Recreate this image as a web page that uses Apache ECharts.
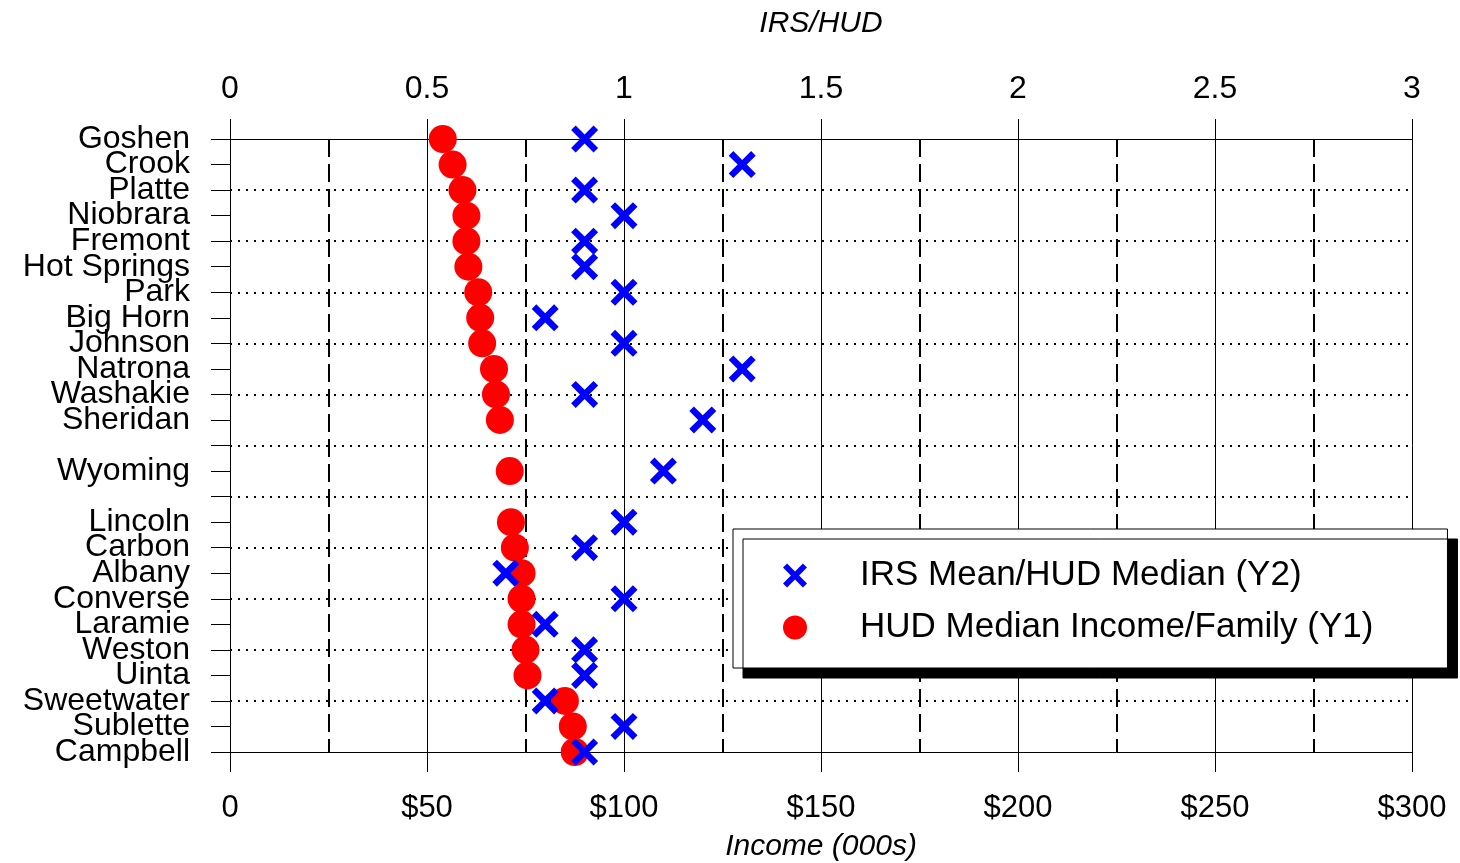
<!DOCTYPE html>
<html>
<head>
<meta charset="utf-8">
<script src="https://cdn.jsdelivr.net/npm/echarts@6/dist/echarts.min.js"></script>
<style>
  html, body { margin: 0; padding: 0; background: #fff; }
  #chart { width: 1460px; height: 863px; }
</style>
</head>
<body>
<div id="chart"></div>
<script>
"use strict";
// counties, top to bottom ('' = spacer rows around the state value)
const counties = ['Goshen', 'Crook', 'Platte', 'Niobrara', 'Fremont', 'Hot Springs', 'Park', 'Big Horn',
  'Johnson', 'Natrona', 'Washakie', 'Sheridan', '', 'Wyoming', '', 'Lincoln', 'Carbon', 'Albany',
  'Converse', 'Laramie', 'Weston', 'Uinta', 'Sweetwater', 'Sublette', 'Campbell'];

// HUD median income per family, $000s (bottom axis)
const hudMedian = [54, 56.5, 59, 60, 60, 60.5, 63, 63.5, 64, 67, 67.5, 68.5, null, 71, null,
  71.3, 72.3, 74, 74, 74, 75, 75.5, 85, 87, 87.5];

// IRS mean / HUD median ratio (top axis)
const irsRatio = [0.9, 1.3, 0.9, 1.0, 0.9, 0.9, 1.0, 0.8, 1.0, 1.3, 0.9, 1.2, null, 1.1, null,
  1.0, 0.9, 0.7, 1.0, 0.8, 0.9, 0.9, 0.8, 1.0, 0.9];

const FONT = 'Liberation Sans';
const X_PATH = 'path://M0,17 L17,0 L50,33 L83,0 L100,17 L67,50 L100,83 L83,100 L50,67 L17,100 L0,83 L33,50 Z';

const myChart = echarts.init(document.getElementById('chart'));

const option = {
  animation: false,
  backgroundColor: '#fff',
  textStyle: { fontFamily: FONT, color: '#000' },
  grid: { left: 230, right: 48, top: 139, bottom: 111, containLabel: false, outerBoundsMode: 'none' },
  legend: {
    left: 733, top: 529,
    orient: 'vertical',
    data: [
      { name: 'IRS Mean/HUD Median (Y2)', icon: X_PATH },
      { name: 'HUD Median Income/Family (Y1)', icon: 'circle' }
    ],
    itemWidth: 24, itemHeight: 28, itemGap: 17,
    padding: [29, 74, 23, 50],
    backgroundColor: '#fff',
    borderColor: '#000', borderWidth: 1, borderRadius: 0,
    shadowColor: '#000', shadowBlur: 0, shadowOffsetX: 10, shadowOffsetY: 10,
    textStyle: { fontFamily: FONT, fontSize: 35, color: '#000', padding: [0, 0, 0, 48] }
  },
  xAxis: [
    {
      type: 'value', position: 'bottom', min: 0, max: 300, interval: 50,
      name: 'Income (000s)', nameLocation: 'middle', nameGap: 80,
      nameTextStyle: { fontFamily: FONT, fontSize: 30, fontStyle: 'italic', color: '#000' },
      axisLine: { show: true, onZero: false, lineStyle: { color: '#000', width: 1 } },
      axisTick: { show: true, inside: false, length: 20, lineStyle: { color: '#000', width: 1 } },
      axisLabel: { fontFamily: FONT, fontSize: 31, lineHeight: 32, color: '#000', margin: 40,
        formatter: v => v === 0 ? '0' : '$' + v },
      splitLine: { show: true, lineStyle: { color: '#000', width: 1, type: 'solid' } },
      minorTick: { show: false, splitNumber: 2 },
      minorSplitLine: { show: true, lineStyle: { color: '#000', width: 2, type: [18, 7] } }
    },
    {
      type: 'value', position: 'top', min: 0, max: 3, interval: 0.5,
      name: 'IRS/HUD', nameLocation: 'middle', nameGap: 100,
      nameTextStyle: { fontFamily: FONT, fontSize: 30, fontStyle: 'italic', color: '#000' },
      axisLine: { show: true, onZero: false, lineStyle: { color: '#000', width: 1 } },
      axisTick: { show: true, inside: false, length: 20, lineStyle: { color: '#000', width: 1 } },
      axisLabel: { fontFamily: FONT, fontSize: 32, lineHeight: 32, color: '#000', margin: 34 },
      splitLine: { show: false }
    }
  ],
  yAxis: {
    type: 'category', data: counties, inverse: true, boundaryGap: false,
    axisLine: { show: true, onZero: false, lineStyle: { color: '#000', width: 1 } },
    axisTick: { show: true, inside: false, length: 19, interval: 0, lineStyle: { color: '#000', width: 1 } },
    axisLabel: { interval: 0, fontFamily: FONT, fontSize: 32, lineHeight: 26, color: '#000', margin: 40,
      padding: [4, 0, 0, 0] },
    splitLine: {
      show: true,
      interval: idx => idx % 2 === 0 && idx !== 0 && idx !== counties.length - 1,
      lineStyle: { color: '#000', width: 2, type: [2, 6] }
    }
  },
  series: [
    {
      name: 'HUD Median Income/Family (Y1)', type: 'scatter',
      xAxisIndex: 0, yAxisIndex: 0,
      data: hudMedian.map((v, i) => [v, i]),
      symbol: 'circle', symbolSize: 28,
      itemStyle: { color: '#ff0000', opacity: 1 },
      z: 3
    },
    {
      name: 'IRS Mean/HUD Median (Y2)', type: 'scatter',
      xAxisIndex: 1, yAxisIndex: 0,
      data: irsRatio.map((v, i) => [v, i]),
      symbol: X_PATH, symbolSize: 27,
      itemStyle: { color: '#0000ff', opacity: 1 },
      z: 4
    }
  ]
};

myChart.setOption(option, true);
</script>
</body>
</html>
